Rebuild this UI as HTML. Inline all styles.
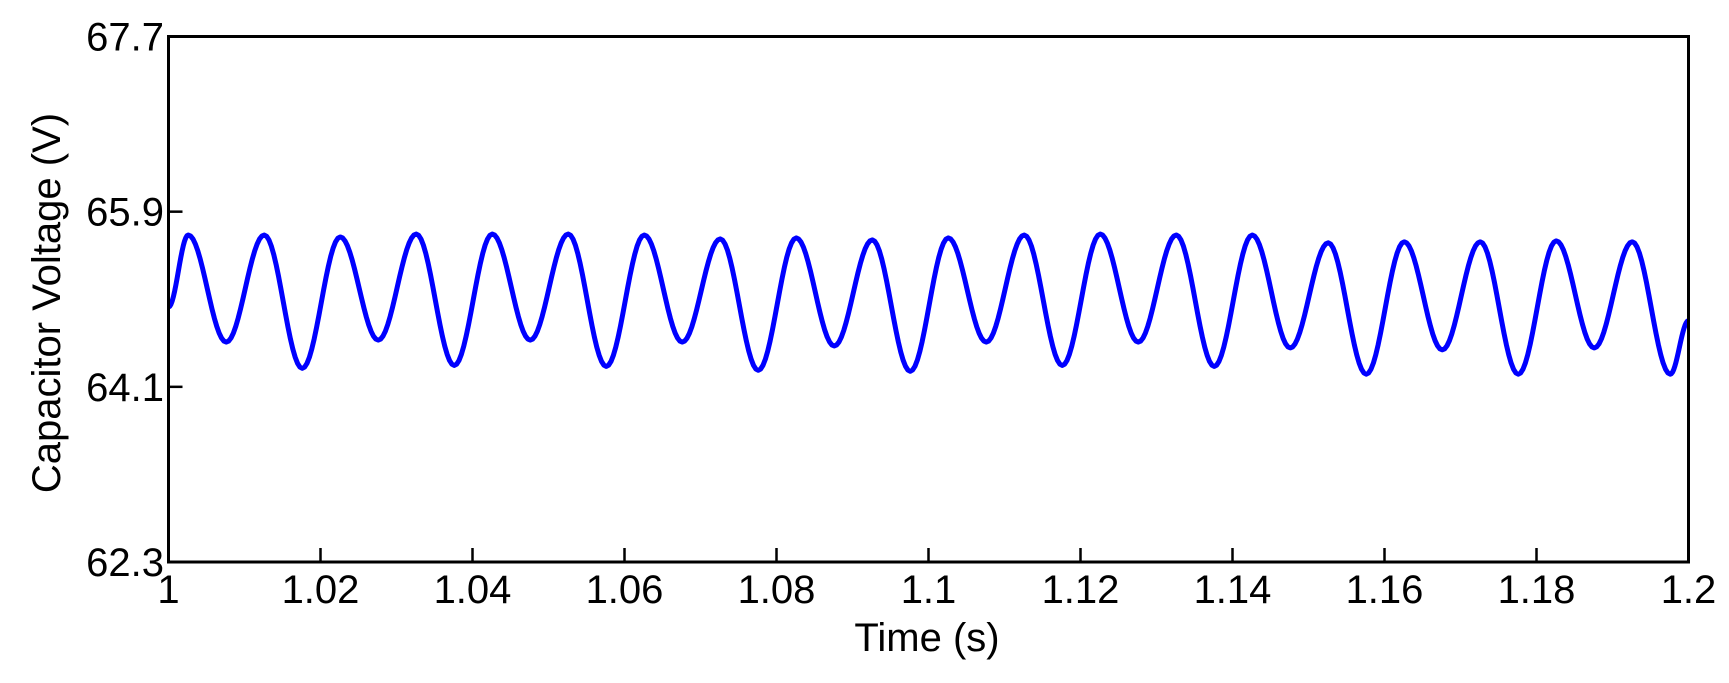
<!DOCTYPE html>
<html><head><meta charset="utf-8"><style>
html,body{margin:0;padding:0;background:#fff}
svg{display:block;font-family:"Liberation Sans",Arial,sans-serif}
</style></head><body>
<svg id="chart" width="1729" height="683" viewBox="0 0 1729 683">
<rect x="0" y="0" width="1729" height="683" fill="#fff"/>
<path id="series" fill="none" stroke="#0000ff" stroke-width="5" stroke-linejoin="round"/>
<rect x="168.5" y="36.5" width="1520" height="525.5" fill="none" stroke="#000" stroke-width="3"/>
<g id="axes"></g>
<text x="927" y="651" font-size="40" text-anchor="middle">Time (s)</text>
<text transform="translate(60,303) rotate(-90)" font-size="40" text-anchor="middle">Capacitor Voltage (V)</text>
</svg>
<script>
const xTicks = [1, 1.02, 1.04, 1.06, 1.08, 1.1, 1.12, 1.14, 1.16, 1.18, 1.2];
const xTickLabels = ["1","1.02","1.04","1.06","1.08","1.1","1.12","1.14","1.16","1.18","1.2"];
const yTicks = [62.3, 64.1, 65.9, 67.7];
const yTickLabels = ["62.3","64.1","65.9","67.7"];
const peakTimes = [1.0026,1.0126,1.0226,1.0326,1.0426,1.0526,1.0626,1.0726,1.0826,1.0926,1.1026,1.1126,1.1226,1.1326,1.1426,1.1526,1.1626,1.1726,1.1826,1.1926];
const peakValues = [65.66,65.66,65.64,65.67,65.67,65.67,65.66,65.62,65.63,65.61,65.63,65.66,65.67,65.66,65.66,65.58,65.59,65.59,65.60,65.59];
const shallowTroughTimes = [1.0076,1.0276,1.0476,1.0676,1.0876,1.1076,1.1276,1.1476,1.1676,1.1876];
const shallowTroughValues = [64.56,64.58,64.58,64.56,64.52,64.56,64.56,64.50,64.48,64.50];
const deepTroughTimes = [1.0176,1.0376,1.0576,1.0776,1.0976,1.1176,1.1376,1.1576,1.1776,1.1976];
const deepTroughValues = [64.29,64.32,64.31,64.27,64.26,64.32,64.31,64.23,64.23,64.23];
const startTime = 1.0, startValue = 64.92;
const endTime = 1.2, endValue = 64.78;

const X0=168.5, X1=1688.5, Y0=562, Y1=36.5;
const xMin=1, xMax=1.2, yMin=62.3, yMax=67.7;
const sx = t => X0 + (t-xMin)/(xMax-xMin)*(X1-X0);
const sy = v => Y0 - (v-yMin)/(yMax-yMin)*(Y0-Y1);
const NS="http://www.w3.org/2000/svg";
const axes=document.getElementById('axes');

xTicks.forEach((t,i)=>{
  const l=document.createElementNS(NS,'line');
  l.setAttribute('x1',sx(t));l.setAttribute('x2',sx(t));
  l.setAttribute('y1',Y0);l.setAttribute('y2',Y0-14);
  l.setAttribute('stroke','#000');l.setAttribute('stroke-width','2.5');
  
  
  axes.appendChild(l);
  const tx=document.createElementNS(NS,'text');
  tx.setAttribute('x',sx(t));tx.setAttribute('y',603);
  tx.setAttribute('font-size','40');tx.setAttribute('text-anchor','middle');
  tx.textContent=xTickLabels[i];
  
  
  axes.appendChild(tx);
});
yTicks.forEach((v,i)=>{
  const l=document.createElementNS(NS,'line');
  l.setAttribute('x1',X0);l.setAttribute('x2',X0+14);
  l.setAttribute('y1',sy(v));l.setAttribute('y2',sy(v));
  l.setAttribute('stroke','#000');l.setAttribute('stroke-width','2.5');
  
  
  axes.appendChild(l);
  const tx=document.createElementNS(NS,'text');
  tx.setAttribute('x',164);tx.setAttribute('y',sy(v)+14);
  tx.setAttribute('font-size','40');tx.setAttribute('text-anchor','end');
  tx.textContent=yTickLabels[i];
  
  
  axes.appendChild(tx);
});

let pts=[[startTime,startValue]];
peakTimes.forEach((t,i)=>pts.push([t,peakValues[i]]));
shallowTroughTimes.forEach((t,i)=>pts.push([t,shallowTroughValues[i]]));
deepTroughTimes.forEach((t,i)=>pts.push([t,deepTroughValues[i]]));
pts.push([endTime,endValue]);
pts.sort((a,b)=>a[0]-b[0]);
let d='M'+sx(pts[0][0]).toFixed(2)+','+sy(pts[0][1]).toFixed(2);
for(let i=0;i<pts.length-1;i++){
  const [t0,v0]=pts[i],[t1,v1]=pts[i+1];
  const n=16;
  for(let k=1;k<=n;k++){
    const f=k/n;
    const t=t0+(t1-t0)*f;
    const v=v0+(v1-v0)*(1-Math.cos(Math.PI*f))/2;
    d+='L'+sx(t).toFixed(2)+','+sy(v).toFixed(2);
  }
}
document.getElementById('series').setAttribute('d',d);
</script>
</body></html>
